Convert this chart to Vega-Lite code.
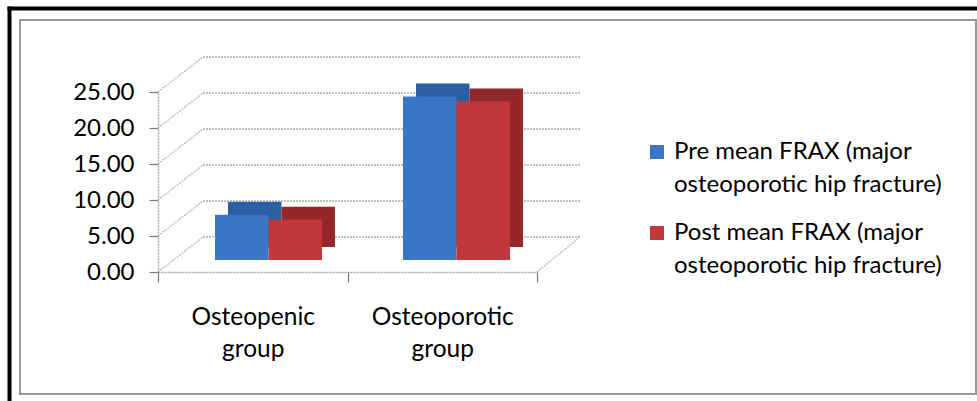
{
  "$schema": "https://vega.github.io/schema/vega-lite/v6.json",
  "width": 956,
  "height": 374,
  "autosize": {"type": "none"},
  "padding": {"left": 20, "top": 20, "right": 1, "bottom": 7},
  "background": "white",
  "config": {
    "font": "Lato",
    "view": {"stroke": "#9a9a9a", "strokeWidth": 2},
    "style": {"guide-label": {"lineHeight": 33}}
  },
  "datasets": {
    "bars": [
      {"group": "Osteopenic group", "series": "Pre mean FRAX (major osteoporotic hip fracture)", "value": 6.3},
      {"group": "Osteopenic group", "series": "Post mean FRAX (major osteoporotic hip fracture)", "value": 5.6},
      {"group": "Osteoporotic group", "series": "Pre mean FRAX (major osteoporotic hip fracture)", "value": 22.7},
      {"group": "Osteoporotic group", "series": "Post mean FRAX (major osteoporotic hip fracture)", "value": 22.0}
    ],
    "ticks": [{"v": 0}, {"v": 5}, {"v": 10}, {"v": 15}, {"v": 20}, {"v": 25}]
  },
  "layer": [
    {
      "data": {"name": "bars"},
      "mark": {"type": "point", "opacity": 0},
      "encoding": {
        "x": {
          "field": "group", "type": "nominal",
          "scale": {"domain": ["Osteopenic group", "Osteoporotic group"], "range": [-13, 957], "paddingInner": 0, "paddingOuter": 0},
          "axis": {"orient": "top", "offset": 12, "domainColor": "#000000", "domainWidth": 4, "ticks": false, "labels": false, "title": null, "grid": false}
        },
        "y": {
          "field": "value", "type": "quantitative",
          "scale": {"domain": [0, 25], "range": [381, -14], "nice": false},
          "axis": {"orient": "left", "offset": 11, "domainColor": "#000000", "domainWidth": 4, "ticks": false, "labels": false, "title": null, "grid": false}
        }
      }
    },
    {
      "data": {"name": "ticks"},
      "mark": {"type": "rule", "color": "#ababab", "strokeWidth": 1.5, "strokeDash": [2, 1]},
      "encoding": {
        "y": {"field": "v", "type": "quantitative", "scale": {"domain": [0, 25], "range": [217, 37], "nice": false, "zero": false}, "axis": null},
        "x": {"datum": 0, "type": "quantitative", "scale": {"domain": [0, 1], "range": [183, 560], "nice": false, "zero": false}, "axis": null},
        "x2": {"datum": 1}
      }
    },
    {
      "data": {"name": "ticks"},
      "mark": {"type": "rule", "color": "#b5b5b5", "strokeWidth": 1.2, "strokeDash": [2, 1], "y2Offset": -35},
      "encoding": {
        "y": {
          "field": "v", "type": "quantitative",
          "scale": {"domain": [0, 25], "range": [252, 72], "nice": false, "zero": false},
          "axis": {
            "values": [0, 5, 10, 15, 20, 25], "format": ".2f", "orient": "left", "offset": -138,
            "domainColor": "#a8a8a8", "domainWidth": 1.5, "domainDash": [2, 1],
            "tickColor": "#7a7a7a", "tickSize": 9, "tickWidth": 1.2,
            "labelFontSize": 24, "labelColor": "#000000", "labelPadding": 15, "labelFont": "Lato",
            "grid": false, "title": null
          }
        },
        "y2": {"field": "v"},
        "x": {"datum": 0, "type": "quantitative", "scale": {"domain": [0, 1], "range": [138, 183], "nice": false, "zero": false}, "axis": null},
        "x2": {"datum": 1}
      }
    },
    {
      "data": {"name": "ticks"},
      "transform": [{"filter": "datum.v == 0"}],
      "mark": {"type": "rule", "color": "#b5b5b5", "strokeWidth": 1.2, "strokeDash": [2, 1], "y2Offset": -35},
      "encoding": {
        "y": {"field": "v", "type": "quantitative", "scale": {"domain": [0, 25], "range": [252, 72], "nice": false, "zero": false}, "axis": null},
        "y2": {"field": "v"},
        "x": {"datum": 0, "type": "quantitative", "scale": {"domain": [0, 1], "range": [517, 560], "nice": false, "zero": false}, "axis": null},
        "x2": {"datum": 1}
      }
    },
    {
      "data": {"name": "bars"},
      "mark": {"type": "point", "opacity": 0},
      "encoding": {
        "x": {
          "field": "group", "type": "nominal",
          "scale": {"domain": ["Osteopenic group", "Osteoporotic group"], "range": [138, 517], "paddingInner": 0, "paddingOuter": 0},
          "axis": {
            "orient": "bottom", "offset": -122, "title": null, "labelAngle": 0,
            "tickBand": "extent", "tickColor": "#7a7a7a", "tickSize": 10, "tickWidth": 1.2,
            "domainColor": "#a8a8a8", "domainWidth": 1.5, "domainDash": [2, 1],
            "labelFontSize": 24.5, "labelColor": "#000000", "labelPadding": 23, "labelLineHeight": 32, "labelFont": "Lato",
            "labelExpr": "split(datum.label, ' ')", "labelBaseline": "top"
          }
        }
      }
    },
    {
      "data": {"name": "bars"},
      "mark": {"type": "bar"},
      "encoding": {
        "x": {"field": "group", "type": "nominal", "scale": {"domain": ["Osteopenic group", "Osteoporotic group"], "range": [208, 503], "paddingInner": 0.431, "paddingOuter": 0}, "axis": null},
        "xOffset": {"field": "series", "type": "nominal", "sort": ["Pre mean FRAX (major osteoporotic hip fracture)", "Post mean FRAX (major osteoporotic hip fracture)"], "scale": {"paddingInner": 0, "paddingOuter": 0}},
        "y": {"field": "value", "type": "quantitative", "scale": {"domain": [0, 25], "range": [227, 47], "nice": false}, "axis": null},
        "color": {
          "field": "series", "type": "nominal",
          "scale": {"domain": ["Pre mean FRAX (major osteoporotic hip fracture)", "Post mean FRAX (major osteoporotic hip fracture)"], "range": ["#2b5fa3", "#942828"]},
          "legend": null
        }
      }
    },
    {
      "data": {"name": "bars"},
      "mark": {"type": "bar"},
      "encoding": {
        "x": {"field": "group", "type": "nominal", "scale": {"domain": ["Osteopenic group", "Osteoporotic group"], "range": [195, 490], "paddingInner": 0.431, "paddingOuter": 0}, "axis": null},
        "xOffset": {"field": "series", "type": "nominal", "sort": ["Pre mean FRAX (major osteoporotic hip fracture)", "Post mean FRAX (major osteoporotic hip fracture)"], "scale": {"paddingInner": 0, "paddingOuter": 0}},
        "y": {"field": "value", "type": "quantitative", "scale": {"domain": [0, 25], "range": [240, 60], "nice": false}, "axis": null},
        "color": {
          "field": "series", "type": "nominal",
          "scale": {"domain": ["Pre mean FRAX (major osteoporotic hip fracture)", "Post mean FRAX (major osteoporotic hip fracture)"], "range": ["#3a76c6", "#c2383a"]},
          "legend": {
            "orient": "none", "legendX": 625, "legendY": 120, "title": null, "padding": 0,
            "symbolType": "square", "symbolSize": 196, "symbolStrokeWidth": 0,
            "labelFontSize": 24, "labelColor": "#000000", "labelFont": "Lato", "labelLimit": 400, "labelOffset": 5,
            "rowPadding": 24,
            "labelExpr": "[slice(datum.label, 0, indexof(datum.label, ' osteo')), slice(datum.label, indexof(datum.label, ' osteo') + 1)]"
          }
        }
      }
    }
  ],
  "resolve": {"scale": {"x": "independent", "y": "independent", "color": "independent", "xOffset": "independent"}}
}
